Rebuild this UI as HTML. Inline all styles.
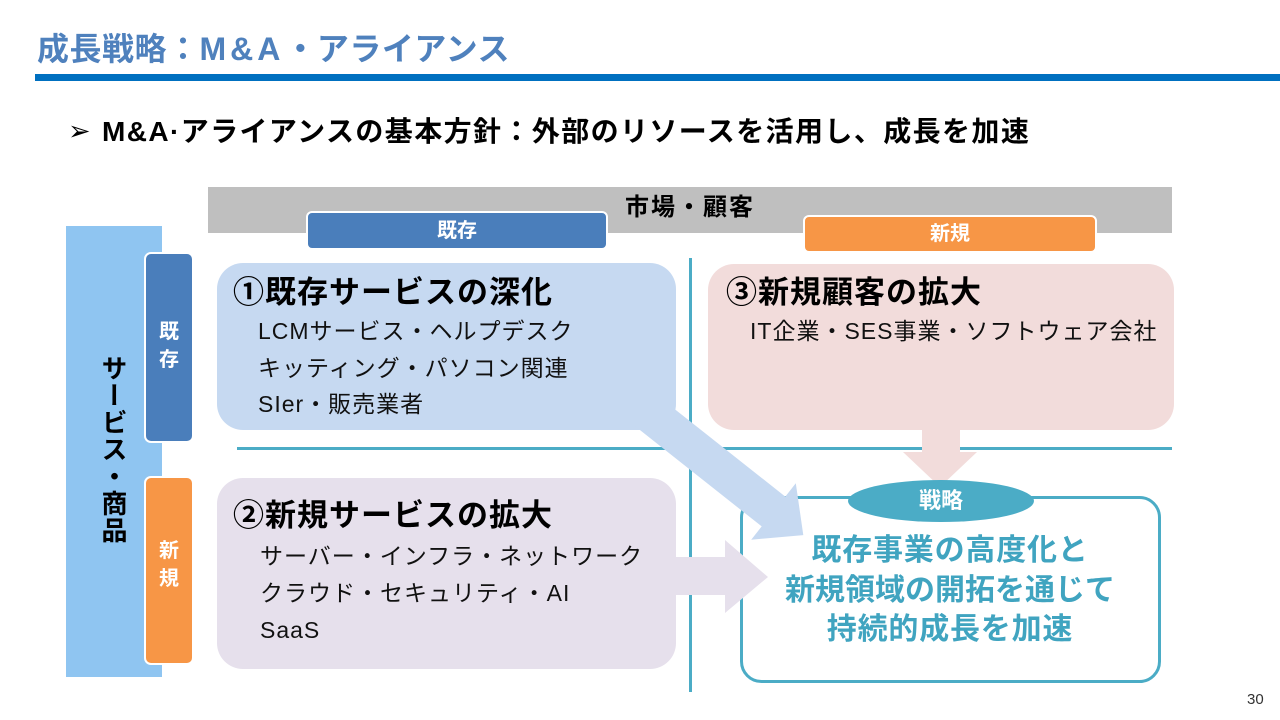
<!DOCTYPE html>
<html><head><meta charset="utf-8">
<style>
html,body{margin:0;padding:0;}
body{width:1280px;height:720px;position:relative;overflow:hidden;background:#fff;font-family:"Liberation Sans","Noto Sans CJK JP",sans-serif;}
.t{position:absolute;white-space:nowrap;}
.b{font-weight:bold;}
.body{font-size:23px;line-height:26px;color:#111;letter-spacing:1px;}
.bt{font-size:31px;line-height:32px;letter-spacing:1px;font-weight:bold;}
svg{position:absolute;left:0;top:0;}
</style></head><body>
<svg width="1280" height="720" viewBox="0 0 1280 720">
  <rect x="35" y="74" width="1245" height="7" fill="#0070c0"/>
  <rect x="208" y="187" width="964" height="46" fill="#bfbfbf"/>
  <rect x="307" y="212" width="300" height="37" rx="5" fill="#4a7ebb" stroke="#fff" stroke-width="2"/>
  <rect x="804" y="216" width="292" height="36" rx="5" fill="#f79646" stroke="#fff" stroke-width="2"/>
  <rect x="66" y="226" width="96" height="451" fill="#8fc5f1"/>
  <rect x="145" y="253" width="48" height="189" rx="6" fill="#4a7ebb" stroke="#fff" stroke-width="2"/>
  <rect x="145" y="477" width="48" height="187" rx="6" fill="#f79646" stroke="#fff" stroke-width="2"/>
  <rect x="689" y="258" width="3" height="434" fill="#4bacc6"/>
  <rect x="237" y="447" width="935" height="3" fill="#4bacc6"/>
  <rect x="217" y="263" width="459" height="167" rx="26" fill="#c6d9f1"/>
  <rect x="708" y="264" width="466" height="166" rx="26" fill="#f2dcdb"/>
  <rect x="217" y="478" width="459" height="191" rx="26" fill="#e6e0ec"/>
  <rect x="741.5" y="497.5" width="418" height="184" rx="20" fill="#fff" stroke="#4bacc6" stroke-width="3"/>
  <polygon points="604.8,402.3 761.7,526.4 751.2,539.7 803.3,535.1 795.8,483.3 785.3,496.6 628.4,372.5" fill="#c6d9f1"/>
  <polygon points="670,557 725,557 725,540 768,577 725,613 725,595 670,595" fill="#e6e0ec"/>
  <polygon points="922,425 960,425 960,452 977,452 940,487 903,452 922,452" fill="#f2dcdb"/>
  <ellipse cx="941" cy="501" rx="93" ry="21" fill="#4bacc6"/>
</svg>

<div class="t b" style="left:37px;top:31px;font-size:32px;line-height:36px;color:#4f81bd;letter-spacing:0.5px;">成長戦略：<span style="letter-spacing:4px;">M&amp;A</span>・アライアンス</div>

<div class="t" style="left:68px;top:117px;font-size:27px;line-height:30px;font-family:'DejaVu Sans',sans-serif;">➢</div>
<div class="t b" style="left:102px;top:117px;font-size:28px;line-height:30px;color:#000;letter-spacing:1.4px;">M&amp;A·アライアンスの基本方針：外部のリソースを活用し、成長を加速</div>

<div class="t b" style="left:590px;top:195px;width:200px;text-align:center;font-size:24px;line-height:26px;letter-spacing:2px;">市場・顧客</div>
<div class="t b" style="left:307px;top:219px;width:300px;text-align:center;font-size:20px;line-height:24px;color:#fff;">既存</div>
<div class="t b" style="left:804px;top:222px;width:292px;text-align:center;font-size:20px;line-height:24px;color:#fff;">新規</div>

<div class="t b" style="left:98px;top:355px;font-size:26px;line-height:30px;writing-mode:vertical-rl;letter-spacing:1px;">サービス・商品</div>
<div class="t b" style="left:145px;top:318px;width:48px;text-align:center;font-size:20px;line-height:28px;color:#fff;white-space:normal;">既<br>存</div>
<div class="t b" style="left:145px;top:537px;width:48px;text-align:center;font-size:20px;line-height:28px;color:#fff;white-space:normal;">新<br>規</div>

<div class="t bt" style="left:233px;top:277px;">①既存サービスの深化</div>
<div class="t body" style="left:258px;top:318px;">LCMサービス・ヘルプデスク</div>
<div class="t body" style="left:258px;top:355px;">キッティング・パソコン関連</div>
<div class="t body" style="left:258px;top:391px;">SIer・販売業者</div>

<div class="t bt" style="left:726px;top:277px;">③新規顧客の拡大</div>
<div class="t body" style="left:750px;top:318px;">IT企業・SES事業・ソフトウェア会社</div>

<div class="t bt" style="left:233px;top:500px;">②新規サービスの拡大</div>
<div class="t body" style="left:260px;top:543px;">サーバー・インフラ・ネットワーク</div>
<div class="t body" style="left:260px;top:580px;">クラウド・セキュリティ・AI</div>
<div class="t body" style="left:260px;top:617px;">SaaS</div>

<div class="t b" style="left:848px;top:489px;width:186px;text-align:center;font-size:22px;line-height:24px;color:#fff;">戦略</div>

<div class="t b" style="left:741px;top:535px;width:418px;text-align:center;font-size:30px;line-height:32px;color:#40a4c0;letter-spacing:0.8px;">既存事業の高度化と</div>
<div class="t b" style="left:741px;top:575px;width:418px;text-align:center;font-size:30px;line-height:32px;color:#40a4c0;">新規領域の開拓を通じて</div>
<div class="t b" style="left:741px;top:614px;width:418px;text-align:center;font-size:30px;line-height:32px;color:#40a4c0;letter-spacing:0.8px;">持続的成長を加速</div>

<div class="t" style="left:1247px;top:691px;font-size:15px;line-height:18px;color:#333;">30</div>
</body></html>
